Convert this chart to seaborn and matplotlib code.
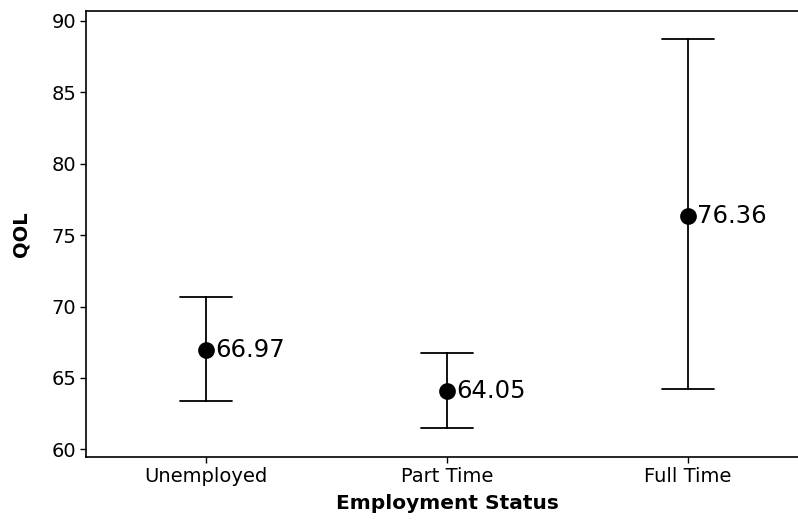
import matplotlib
matplotlib.use("Agg")
import matplotlib.pyplot as plt
import seaborn as sns
import pandas as pd

# Group means with lower / upper interval bounds for quality of life
categories = ["Unemployed", "Part Time", "Full Time"]
means = [66.97, 64.05, 76.36]
lower = [63.38, 61.47, 64.20]
upper = [70.69, 66.76, 88.71]
yticks = [60, 65, 70, 75, 80, 85, 90]

sns.set_theme(style="white")
plt.rcParams["font.family"] = ["DejaVu Sans"]

# Long-form table: each group holds its lower bound, mean and upper bound.
# Median of the three gives the mean, the 100% percentile interval spans the bounds.
rows = []
for cat, lo, m, hi in zip(categories, lower, means, upper):
    for v in (lo, m, hi):
        rows.append({"Employment Status": cat, "QOL": v})
df = pd.DataFrame(rows)

W, H = 798, 521
fig = plt.figure(figsize=(W / 100, H / 100), dpi=100)
left, right, top, bottom = 86, 808, 10.7, 457
ax = fig.add_axes([left / W, 1 - bottom / H, (right - left) / W, (bottom - top) / H])

sns.pointplot(
    data=df, x="Employment Status", y="QOL", order=categories,
    estimator="median", errorbar=("pi", 100), capsize=0.215,
    color="black", linestyle="none", markersize=10, err_kws={"linewidth": 1.3},
    ax=ax,
)

for i, m in enumerate(means):
    ax.annotate(f"{m:.2f}", xy=(i, m), xytext=(6.5, 0), textcoords="offset points",
                ha="left", va="center", fontsize=17.5, color="black")

ax.set_xlim(-0.5, 2.5)
ax.set_ylim(59.46, 90.72)
ax.set_yticks(yticks)
ax.set_yticklabels([str(t) for t in yticks])

for side in ("left", "bottom", "top", "right"):
    ax.spines[side].set_visible(True)
    ax.spines[side].set_color("black")
    ax.spines[side].set_linewidth(1.2)

ax.tick_params(axis="both", which="both", length=4, width=1, color="black",
               labelsize=14, labelcolor="black", left=True, bottom=True, pad=3)
ax.set_xlabel("Employment Status", fontsize=14.5, fontweight="bold", color="black", labelpad=6)
ax.set_ylabel("QOL", fontsize=14, fontweight="bold", color="black", labelpad=15)

fig.savefig("out.png", dpi=100)
